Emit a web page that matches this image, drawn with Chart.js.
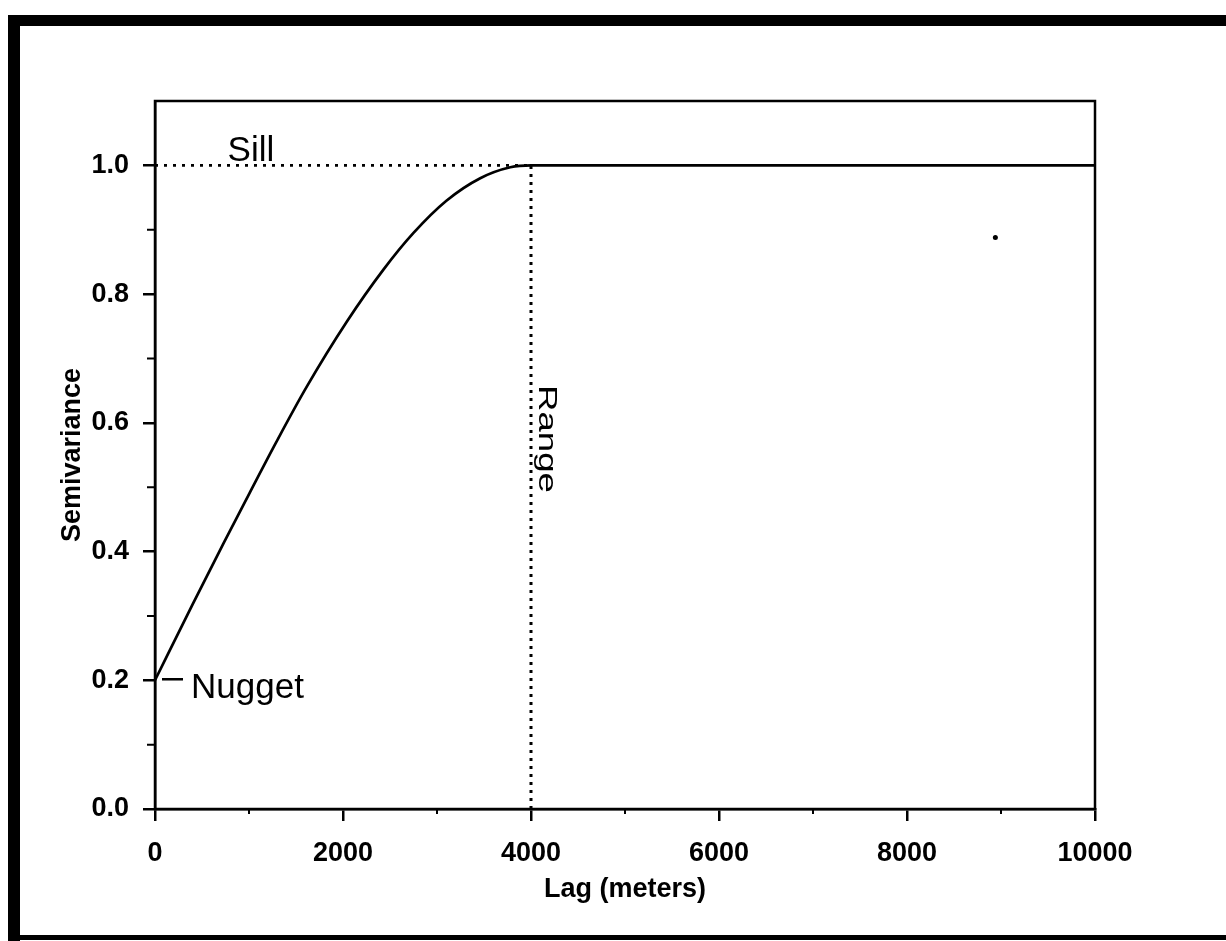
<!DOCTYPE html>
<html>
<head>
<meta charset="utf-8">
<script src="https://cdn.jsdelivr.net/npm/chart.js@4/dist/chart.umd.min.js"></script>
<style>
html,body{margin:0;padding:0;background:#fff;overflow:hidden}
canvas{display:block}
</style>
</head>
<body>
<canvas id="c" width="1226" height="941"></canvas>
<script>
// ---- data ----
const lagMeters    = [0, 400, 730, 1010, 1290, 1610, 2040, 2430, 2750, 3100, 3460, 3780, 4000, 10000];
const semivariance = [0.20, 0.318, 0.413, 0.492, 0.570, 0.655, 0.757, 0.838, 0.895, 0.945, 0.980, 0.997, 1.0, 1.0];
const nuggetValue = 0.2;
const sillValue = 1.0;
const rangeValue = 4000;
const strayLag = [8940];
const strayValue = [0.888];
const xTickValues = [0, 2000, 4000, 6000, 8000, 10000];
const xMinorTickValues = [1000, 3000, 5000, 7000, 9000];
const yTickValues = [0.0, 0.2, 0.4, 0.6, 0.8, 1.0];
const yMinorTickValues = [0.1, 0.3, 0.5, 0.7, 0.9];
const xMin = 0, xMax = 10000, yMin = 0, yMax = 1.1;
const xTitle = 'Lag (meters)';
const yTitle = 'Semivariance';
const labelSill = 'Sill', labelNugget = 'Nugget', labelRange = 'Range';
const sillLabelLag = 1020;
const rangeLabelValue = 0.575;

const FONT = '"Liberation Sans", Arial, Helvetica, sans-serif';

const curvePts = lagMeters.map((x, i) => ({x, y: semivariance[i]}));
const sillPts = [{x: xMin, y: sillValue}, {x: rangeValue, y: sillValue}];
const rangePts = [{x: rangeValue, y: yMin}, {x: rangeValue, y: sillValue}];
const strayPts = strayLag.map((x, i) => ({x, y: strayValue[i]}));

const framePlugin = {
  id: 'frame',
  beforeDraw(chart) {
    const ctx = chart.ctx;
    ctx.save();
    ctx.fillStyle = '#fff';
    ctx.fillRect(0, 0, chart.width, chart.height);
    ctx.fillStyle = '#000';
    ctx.fillRect(8, 15, chart.width - 8, 11);   // top
    ctx.fillRect(8, 15, 12, chart.height - 15); // left
    ctx.fillRect(8, 935, chart.width - 8, 5);   // bottom
    ctx.restore();
  },
  afterDatasetsDraw(chart) {
    const ctx = chart.ctx;
    const a = chart.chartArea;
    const xs = chart.scales.x, ys = chart.scales.y;
    ctx.save();
    ctx.strokeStyle = '#000';
    ctx.lineWidth = 2.5;
    ctx.strokeRect(a.left, a.top, a.right - a.left, a.bottom - a.top);
    // minor ticks
    ctx.lineWidth = 2;
    ctx.beginPath();
    xMinorTickValues.forEach(v => {
      const px = xs.getPixelForValue(v);
      ctx.moveTo(px, a.bottom); ctx.lineTo(px, a.bottom + 5);
    });
    yMinorTickValues.forEach(v => {
      const py = ys.getPixelForValue(v);
      ctx.moveTo(a.left, py); ctx.lineTo(a.left - 8, py);
    });
    ctx.stroke();

    ctx.fillStyle = '#000';
    // Sill label
    ctx.font = '35px ' + FONT;
    ctx.textAlign = 'center';
    ctx.textBaseline = 'alphabetic';
    ctx.fillText(labelSill, xs.getPixelForValue(sillLabelLag), ys.getPixelForValue(sillValue) - 4);
    // Nugget dash + label
    const nx = xs.getPixelForValue(xMin), ny = ys.getPixelForValue(nuggetValue);
    ctx.lineWidth = 2.5;
    ctx.beginPath();
    ctx.moveTo(nx + 7, ny - 1); ctx.lineTo(nx + 28, ny - 1);
    ctx.stroke();
    ctx.textAlign = 'left';
    ctx.fillText(labelNugget, nx + 36, ny + 18);
    // Range label (rotated clockwise)
    const rx = xs.getPixelForValue(rangeValue), ry = ys.getPixelForValue(rangeLabelValue);
    ctx.translate(rx + 15, ry);
    ctx.rotate(Math.PI / 2);
    ctx.font = '26px ' + FONT;
    const w = ctx.measureText(labelRange).width;
    ctx.scale(108 / w, 1);
    ctx.textAlign = 'center';
    ctx.textBaseline = 'middle';
    ctx.fillText(labelRange, 0, 0);
    ctx.restore();
  }
};

const tickFont = {family: FONT, size: 27, weight: 'bold'};

new Chart(document.getElementById('c'), {
  type: 'scatter',
  data: {
    datasets: [
      {data: curvePts, showLine: true, borderColor: '#000', borderWidth: 2.7, pointRadius: 0,
       cubicInterpolationMode: 'monotone', fill: false},
      {data: sillPts, showLine: true, borderColor: '#000', borderWidth: 2.8, borderDash: [3, 6],
       pointRadius: 0, fill: false},
      {data: rangePts, showLine: true, borderColor: '#000', borderWidth: 3, borderDash: [3, 5],
       pointRadius: 0, fill: false},
      {data: strayPts, showLine: false, pointRadius: 2.5, backgroundColor: '#000', borderWidth: 0}
    ]
  },
  options: {
    responsive: false,
    animation: false,
    devicePixelRatio: 1,
    layout: {padding: {top: 101, right: 131, left: 0, bottom: 0}},
    plugins: {legend: {display: false}, tooltip: {enabled: false}},
    scales: {
      x: {
        type: 'linear', min: xMin, max: xMax,
        afterBuildTicks: s => { s.ticks = xTickValues.map(v => ({value: v})); },
        afterFit: s => { s.height = 132; s.paddingLeft = 0; s.paddingRight = 0; },
        grid: {drawOnChartArea: false, drawTicks: true, tickLength: 12, color: '#000', lineWidth: 2.5},
        border: {display: true, color: '#000', width: 2.5},
        ticks: {color: '#000', font: tickFont, padding: 16, maxRotation: 0, autoSkip: false,
                callback: v => String(v)},
        title: {display: true, text: xTitle, color: '#000', font: tickFont, padding: {top: 35, bottom: 35}}
      },
      y: {
        type: 'linear', min: yMin, max: yMax,
        afterBuildTicks: s => { s.ticks = yTickValues.map(v => ({value: v})); },
        afterFit: s => { s.width = 155; s.paddingTop = 0; s.paddingBottom = 0; },
        grid: {drawOnChartArea: false, drawTicks: true, tickLength: 12, color: '#000', lineWidth: 2.5},
        border: {display: true, color: '#000', width: 2.5},
        ticks: {color: '#000', font: tickFont, padding: 14, autoSkip: false,
                callback: v => Number(v).toFixed(1)},
        title: {display: true, text: yTitle, color: '#000', font: tickFont, padding: {top: 56, bottom: 56}}
      }
    }
  },
  plugins: [framePlugin]
});
</script>
</body>
</html>
